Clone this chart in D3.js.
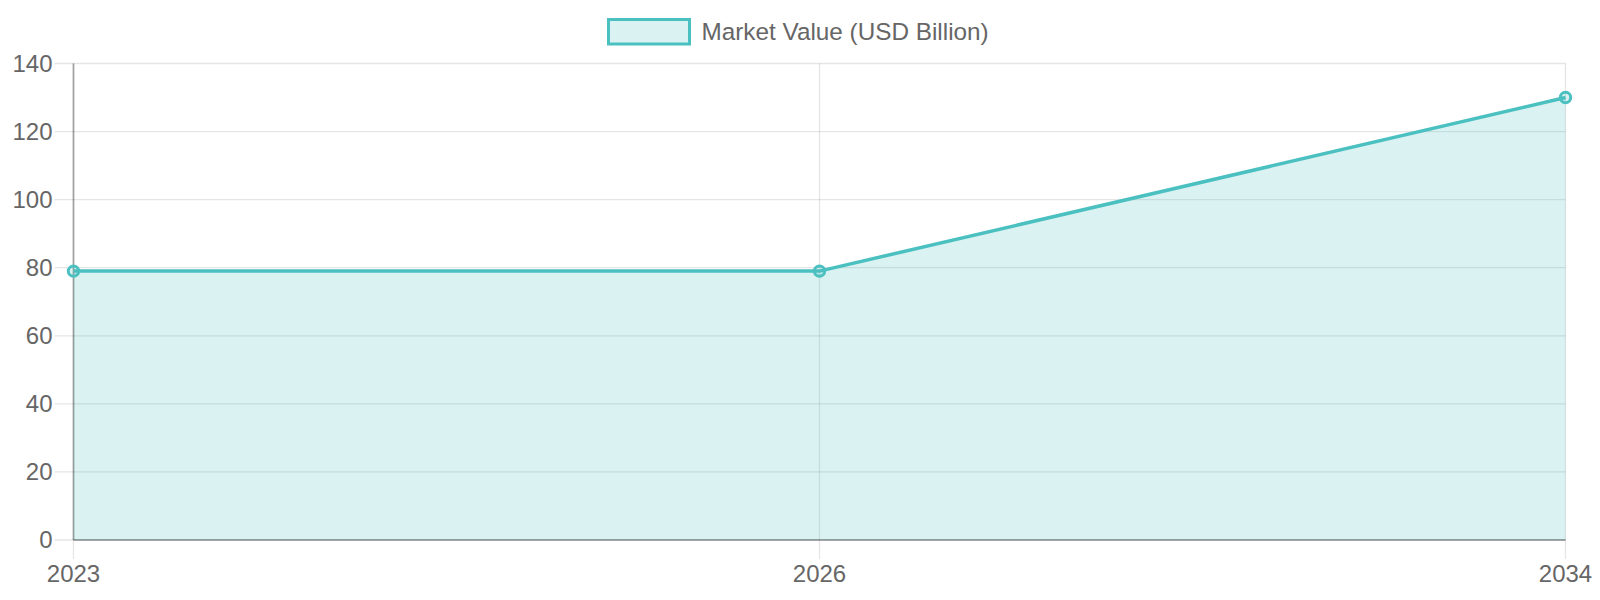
<!DOCTYPE html>
<html>
<head>
<meta charset="utf-8">
<script src="https://cdn.jsdelivr.net/npm/d3@7"></script>
<style>
  body { margin: 0; background: #fff; }
  svg text { font-family: "Liberation Sans", Arial, sans-serif; fill: #666; }
</style>
</head>
<body>
<svg id="chart" width="1600" height="600"></svg>
<script>
const years = ['2023', '2026', '2034'];
const marketValue = [79, 79, 130];
const yTicks = [0, 20, 40, 60, 80, 100, 120, 140];
const seriesName = 'Market Value (USD Billion)';

const teal = 'rgb(75,192,192)';
const tealFill = 'rgba(75,192,192,0.2)';
const margin = { top: 63.5, right: 34.5, bottom: 60, left: 73.5 };

const svg = d3.select('#chart');
const width = +svg.attr('width') - margin.left - margin.right;
const height = +svg.attr('height') - margin.top - margin.bottom;

const g = svg.append('g')
  .attr('transform', `translate(${margin.left},${margin.top})`);

const x = d3.scalePoint().domain(years).range([0, width]);
const y = d3.scaleLinear().domain([0, 140]).range([height, 0]);

// grid lines
g.append('g')
  .selectAll('line')
  .data(yTicks)
  .enter().append('line')
    .attr('x1', -19).attr('x2', width)
    .attr('y1', d => y(d)).attr('y2', d => y(d))
    .attr('stroke', 'rgba(0,0,0,0.1)')
    .attr('stroke-width', 1.3);

g.append('g')
  .selectAll('line')
  .data(years)
  .enter().append('line')
    .attr('x1', d => x(d)).attr('x2', d => x(d))
    .attr('y1', 0).attr('y2', height + 19)
    .attr('stroke', 'rgba(0,0,0,0.1)')
    .attr('stroke-width', 1.3);

// area + line
const pts = years.map((yr, i) => ({ yr, v: marketValue[i] }));

g.append('path')
  .datum(pts)
  .attr('fill', tealFill)
  .attr('d', d3.area().x(d => x(d.yr)).y0(y(0)).y1(d => y(d.v)));

// axis lines
g.append('line')
  .attr('x1', 0).attr('x2', 0).attr('y1', 0).attr('y2', height)
  .attr('stroke', 'rgba(0,0,0,0.3)').attr('stroke-width', 1.8);
g.append('line')
  .attr('x1', 0).attr('x2', width).attr('y1', height).attr('y2', height)
  .attr('stroke', 'rgba(0,0,0,0.3)').attr('stroke-width', 1.8);

g.append('path')
  .datum(pts)
  .attr('fill', 'none')
  .attr('stroke', teal)
  .attr('stroke-width', 3.5)
  .attr('d', d3.line().x(d => x(d.yr)).y(d => y(d.v)));

g.append('g')
  .selectAll('circle')
  .data(pts)
  .enter().append('circle')
    .attr('cx', d => x(d.yr))
    .attr('cy', d => y(d.v))
    .attr('r', 5.2)
    .attr('fill', 'rgba(75,192,192,0.2)')
    .attr('stroke', teal)
    .attr('stroke-width', 3);

// tick labels
g.append('g')
  .selectAll('text')
  .data(yTicks)
  .enter().append('text')
    .attr('x', -21)
    .attr('y', d => y(d))
    .attr('dy', '0.35em')
    .attr('text-anchor', 'end')
    .style('font-size', '24px')
    .text(d => d);

g.append('g')
  .selectAll('text')
  .data(years)
  .enter().append('text')
    .attr('x', d => x(d))
    .attr('y', height + 42)
    .attr('text-anchor', 'middle')
    .style('font-size', '24px')
    .text(d => d);

// legend
const legend = svg.append('g').attr('transform', 'translate(608.5,19.5)');
legend.append('rect')
  .attr('width', 81).attr('height', 24.5)
  .attr('fill', tealFill)
  .attr('stroke', teal)
  .attr('stroke-width', 3);
legend.append('text')
  .attr('x', 93)
  .attr('y', 12)
  .attr('dy', '0.35em')
  .style('font-size', '24.3px')
  .text(seriesName);
</script>
</body>
</html>
